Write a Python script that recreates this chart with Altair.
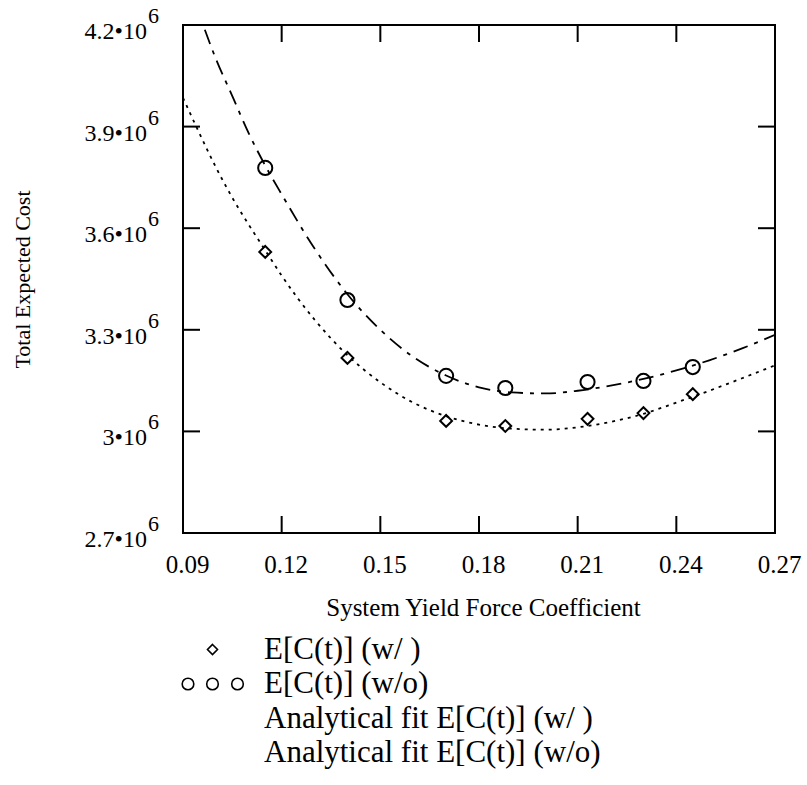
import altair as alt
import pandas as pd

# ---------------- data ----------------
x_points = [0.115, 0.14, 0.17, 0.188, 0.213, 0.23, 0.245]
cost_with = [3.530e6, 3.217e6, 3.031e6, 3.016e6, 3.037e6, 3.054e6, 3.110e6]
cost_without = [3.778e6, 3.388e6, 3.164e6, 3.128e6, 3.146e6, 3.149e6, 3.190e6]

x_fit = [0.09, 0.095, 0.10, 0.105, 0.11, 0.115, 0.12, 0.13, 0.14, 0.15, 0.16,
         0.17, 0.18, 0.19, 0.20, 0.21, 0.22, 0.23, 0.24, 0.25, 0.26, 0.27]
fit_with = [3.985e6, 3.88e6, 3.78e6, 3.69e6, 3.61e6, 3.535e6, 3.46e6, 3.33e6,
            3.225e6, 3.145e6, 3.085e6, 3.045e6, 3.02e6, 3.008e6, 3.005e6,
            3.012e6, 3.028e6, 3.052e6, 3.085e6, 3.12e6, 3.157e6, 3.195e6]
fit_without = [4.37e6, 4.23e6, 4.10e6, 3.99e6, 3.88e6, 3.785e6, 3.70e6, 3.54e6,
               3.405e6, 3.30e6, 3.22e6, 3.165e6, 3.13e6, 3.115e6, 3.112e6,
               3.12e6, 3.135e6, 3.155e6, 3.18e6, 3.21e6, 3.245e6, 3.285e6]

x_ticks = [0.09, 0.12, 0.15, 0.18, 0.21, 0.24, 0.27]
y_ticks = [2.7e6, 3.0e6, 3.3e6, 3.6e6, 3.9e6, 4.2e6]
y_tick_mantissa = ["2.7", "3", "3.3", "3.6", "3.9", "4.2"]

legend_labels = ["E[C(t)] (w/ )", "E[C(t)] (w/o)",
                 "Analytical fit E[C(t)] (w/ )", "Analytical fit E[C(t)] (w/o)"]

# ---------------- styles ----------------
FONT = "Liberation Serif"
W, H = 592, 508
TICK = 17

xscale = alt.Scale(domain=[0.09, 0.27], nice=False, zero=False)
yscale = alt.Scale(domain=[2.7e6, 4.2e6], nice=False, zero=False)

pts = pd.DataFrame({"x": x_points, "with": cost_with, "without": cost_without})
fit = pd.DataFrame({"x": x_fit, "with": fit_with, "without": fit_without})
xt = pd.DataFrame({"x": x_ticks})
yt = pd.DataFrame({"y": y_ticks,
                   "lab": [m + "\u202210" for m in y_tick_mantissa]})
leg = pd.DataFrame({"series": legend_labels})


def circ(cx, r):
    return f"M{cx + r},0A{r},{r} 0 1,1 {cx - r},0A{r},{r} 0 1,1 {cx + r},0Z"


circles_path = " ".join(circ(c, 0.58) for c in [-2.45, 0, 2.5])
diamond_path = "M0,-0.5L0.5,0L0,0.5L-0.5,0Z"

x_axis = alt.Axis(values=x_ticks, format=".2f", ticks=False, domain=False,
                  grid=False, labelFont=FONT, labelFontSize=25,
                  labelColor="black", labelPadding=19, labelFlush=False,
                  labelOverlap=False, labelOffset=4,
                  title="System Yield Force Coefficient", titleFont=FONT,
                  titleFontSize=25, titleFontWeight="normal",
                  titleColor="black", titleX=W / 2 + 4, titleY=74,
                  titleAlign="center", titleBaseline="middle")
y_axis = alt.Axis(labels=False, ticks=False, domain=False, grid=False,
                  title="Total Expected Cost", titleFont=FONT,
                  titleFontSize=22, titleFontWeight="normal",
                  titleColor="black", titleX=-161, titleY=H / 2,
                  titleAlign="center", titleBaseline="middle", titleAngle=-90)


def X(field):
    return alt.X(field, scale=xscale, axis=x_axis)


def Y(field):
    return alt.Y(field, scale=yscale, axis=y_axis)


fit_wo = alt.Chart(fit).mark_line(
    color="black", strokeWidth=1.8, strokeDash=[15, 7, 4, 7], clip=True,
    interpolate="monotone"
).encode(x=X("x:Q"), y=Y("without:Q"))

fit_w = alt.Chart(fit).mark_line(
    color="black", strokeWidth=1.8, strokeDash=[3, 5], clip=True,
    interpolate="monotone"
).encode(x=X("x:Q"), y=Y("with:Q"))

circles = alt.Chart(pts).mark_point(
    shape="circle", size=200, filled=False, color="black", strokeWidth=2,
    opacity=1
).encode(x=X("x:Q"), y=Y("without:Q"))

diamonds = alt.Chart(pts).mark_point(
    shape="diamond", size=140, filled=False, color="black", strokeWidth=2,
    opacity=1
).encode(x=X("x:Q"), y=Y("with:Q"))

# inward ticks on all four sides
tick_style = dict(color="black", strokeWidth=2)
t_bottom = alt.Chart(xt).mark_rule(**tick_style).encode(
    x=X("x:Q"), y=alt.value(H), y2=alt.value(H - TICK))
t_top = alt.Chart(xt).mark_rule(**tick_style).encode(
    x=X("x:Q"), y=alt.value(0), y2=alt.value(TICK))
t_left = alt.Chart(yt).mark_rule(**tick_style).encode(
    y=Y("y:Q"), x=alt.value(0), x2=alt.value(TICK))
t_right = alt.Chart(yt).mark_rule(**tick_style).encode(
    y=Y("y:Q"), x=alt.value(W), x2=alt.value(W - TICK))

# y tick labels "m•10^6"
ylab = alt.Chart(yt).mark_text(
    align="right", baseline="alphabetic", dy=14, font=FONT, fontSize=24,
    color="black"
).encode(y=Y("y:Q"), x=alt.value(-36), text="lab:N")
ysup = alt.Chart(yt).mark_text(
    align="left", baseline="alphabetic", dy=-2, font=FONT, fontSize=22,
    color="black"
).encode(y=Y("y:Q"), x=alt.value(-35), text=alt.value("6"))

# legend (driven by a shape scale)
legend_layer = alt.Chart(leg).mark_point(
    filled=False, color="black", opacity=0, strokeWidth=1.6
).encode(
    shape=alt.Shape(
        "series:N",
        scale=alt.Scale(domain=legend_labels,
                        range=[diamond_path, circles_path, "M0,0", "M0,0"]),
        legend=alt.Legend(
            title=None, orient="none", legendX=14, legendY=609,
            symbolSize=400, symbolStrokeWidth=1.6, symbolStrokeColor="black",
            symbolFillColor="transparent", symbolOpacity=1,
            labelFont=FONT, labelFontSize=31, labelColor="black",
            labelOffset=36, labelLimit=700, rowPadding=2.5, padding=0,
        ),
    )
)

chart = alt.layer(
    fit_wo, fit_w, circles, diamonds, t_bottom, t_top, t_left, t_right,
    ylab, ysup, legend_layer
).properties(
    width=W, height=H,
    autosize=alt.AutoSizeParams(type="none"),
    padding={"left": 183, "top": 25, "right": 32, "bottom": 252},
    background="white",
).configure_view(stroke="black", strokeWidth=2)

chart.save("out.html", embed_options={"renderer": "svg", "actions": False})
